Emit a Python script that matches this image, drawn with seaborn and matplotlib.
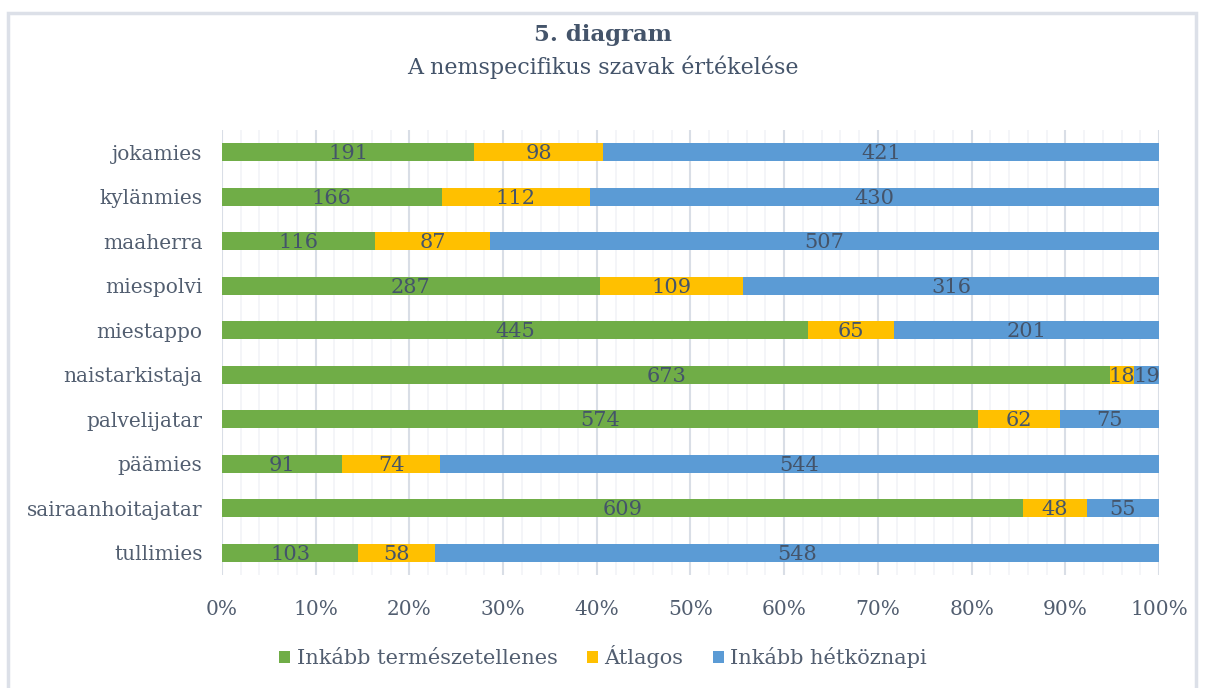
import matplotlib.pyplot as plt
import pandas as pd
import seaborn as sns
from matplotlib.patches import Rectangle
from matplotlib.ticker import MultipleLocator, PercentFormatter

# Data
words = ['jokamies', 'kylänmies', 'maaherra', 'miespolvi', 'miestappo',
         'naistarkistaja', 'palvelijatar', 'päämies', 'sairaanhoitajatar', 'tullimies']
natural = [191, 166, 116, 287, 445, 673, 574, 91, 609, 103]
average = [98, 112, 87, 109, 65, 18, 62, 74, 48, 58]
everyday = [421, 430, 507, 316, 201, 19, 75, 544, 55, 548]
series_names = ['Inkább természetellenes', 'Átlagos', 'Inkább hétköznapi']
colors = ['#70AD47', '#FFC000', '#5B9BD5']

df = pd.DataFrame({'word': words, 'nat': natural, 'avg': average, 'day': everyday})
df['total'] = df['nat'] + df['avg'] + df['day']
df['p_nat'] = df['nat'] / df['total'] * 100
df['p_avg'] = df['avg'] / df['total'] * 100
df['p_day'] = df['day'] / df['total'] * 100
df['c1'] = df['p_nat']
df['c2'] = df['p_nat'] + df['p_avg']
df['c3'] = df['c2'] + df['p_day']

sns.set_style('white')
plt.rcParams['font.family'] = ['DejaVu Serif']
text_col = '#525E70'
label_col = '#44546A'

fig = plt.figure(figsize=(12.06, 6.88), dpi=100)
ax = fig.add_axes([222 / 1206, 1 - 575 / 688, (1159 - 222) / 1206, (575 - 130) / 688])

# stacked bars: draw cumulative totals back to front
for col, c, name in zip(['c3', 'c2', 'c1'], colors[::-1], series_names[::-1]):
    sns.barplot(data=df, x=col, y='word', color=c, orient='h', width=0.4,
                saturation=1, ax=ax, label=name, zorder=3, linewidth=0)

# value labels at segment centres
for i, row in df.iterrows():
    starts = [0, row['c1'], row['c2']]
    widths = [row['p_nat'], row['p_avg'], row['p_day']]
    vals = [row['nat'], row['avg'], row['day']]
    for s, w, v in zip(starts, widths, vals):
        ax.text(s + w / 2, i + 0.03, str(v), ha='center', va='center', fontsize=15,
                color=label_col, zorder=5)

ax.set_xlim(0, 100)
ax.set_ylim(9.5, -0.5)
ax.xaxis.set_major_locator(MultipleLocator(10))
ax.xaxis.set_minor_locator(MultipleLocator(2))
ax.xaxis.set_major_formatter(PercentFormatter(decimals=0))
ax.grid(axis='x', which='major', color='#D9DEE6', linewidth=1.5, zorder=0)
ax.grid(axis='x', which='minor', color='#F2F4F7', linewidth=1.2, zorder=0)
ax.set_axisbelow(True)
for sp in ax.spines.values():
    sp.set_visible(False)
ax.set_xlabel('')
ax.set_ylabel('')
ax.tick_params(axis='both', which='both', length=0, labelsize=14.5, labelcolor=text_col)
ax.tick_params(axis='x', pad=18)
ax.tick_params(axis='y', pad=14)

# legend in original series order
handles, labels = ax.get_legend_handles_labels()
order = [labels.index(n) for n in series_names]
fig.legend([handles[k] for k in order], series_names, loc='center',
           bbox_to_anchor=(0.5, 1 - 657 / 688), ncol=3, frameon=False,
           fontsize=15, handlelength=0.55, handleheight=0.55,
           handletextpad=0.3, columnspacing=1.4, labelcolor=text_col)
if ax.legend_:
    ax.legend_.remove()

fig.text(0.5, 1 - 35 / 688, '5. diagram', ha='center', va='center',
         fontsize=16.5, fontweight='bold', color=label_col)
fig.text(0.5, 1 - 67 / 688, 'A nemspecifikus szavak értékelése', ha='center',
         va='center', fontsize=16, color=label_col)

# chart area border
fig.patches.append(Rectangle((8 / 1206, -0.01), (1196 - 8) / 1206, 1 - 13 / 688 + 0.01,
                             transform=fig.transFigure, fill=False,
                             edgecolor='#DCE0E8', linewidth=2.5))

fig.savefig('out.png', dpi=100)
